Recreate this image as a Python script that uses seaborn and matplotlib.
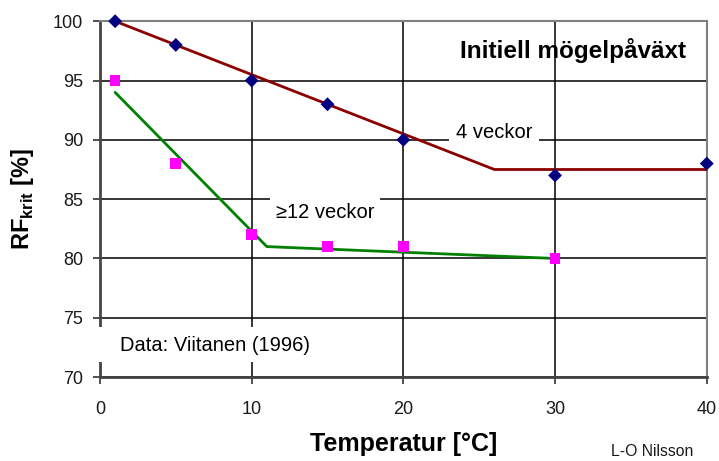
import numpy as np
import pandas as pd
import seaborn as sns
import matplotlib.pyplot as plt

# measured points
temp_4v = [1, 5, 10, 15, 20, 30, 40]
rf_4v = [100, 98, 95, 93, 90, 87, 88]
temp_12v = [1, 5, 10, 15, 20, 30]
rf_12v = [95, 88, 82, 81, 81, 80]

# fitted limit curves
fit_4v_x = [1, 26, 40]
fit_4v_y = [100, 87.5, 87.5]
fit_12v_x = [1, 11, 30]
fit_12v_y = [94, 81, 80]

x_ticks = [0, 10, 20, 30, 40]
y_ticks = [70, 75, 80, 85, 90, 95, 100]

sns.set_theme(style="white")
plt.rcParams['font.family'] = ['Liberation Sans', 'DejaVu Sans']
plt.rcParams['mathtext.fontset'] = 'custom'
plt.rcParams['mathtext.rm'] = 'Liberation Sans'
plt.rcParams['mathtext.bf'] = 'Liberation Sans:bold'
plt.rcParams['text.color'] = 'black'
plt.rcParams['axes.labelcolor'] = 'black'

fig = plt.figure(figsize=(7.19, 4.61), dpi=100)
ax = fig.add_axes([0.139, 0.182, 0.844, 0.772])

df_fit4 = pd.DataFrame({'x': fit_4v_x, 'y': fit_4v_y})
df_fit12 = pd.DataFrame({'x': fit_12v_x, 'y': fit_12v_y})
df_4v = pd.DataFrame({'x': temp_4v, 'y': rf_4v})
df_12v = pd.DataFrame({'x': temp_12v, 'y': rf_12v})

sns.lineplot(data=df_fit4, x='x', y='y', ax=ax, color='#8b0000', lw=2, zorder=3)
sns.lineplot(data=df_fit12, x='x', y='y', ax=ax, color='#008000', lw=2, zorder=3)
sns.scatterplot(data=df_4v, x='x', y='y', ax=ax, marker='D', s=50,
                color='#000080', edgecolor='none', zorder=4, clip_on=False)
sns.scatterplot(data=df_12v, x='x', y='y', ax=ax, marker='s', s=60,
                color='#ff00ff', edgecolor='none', zorder=4, clip_on=False)

ax.set_xlim(0, 40)
ax.set_ylim(70, 100)
ax.set_xticks(x_ticks)
ax.set_yticks(y_ticks)
ax.grid(True, color='black', lw=1.1)
ax.set_axisbelow(True)
ax.tick_params(axis='both', direction='out', length=5, width=1.2, color='#333333',
               labelsize=13, labelcolor='#1a1a1a', pad=7, bottom=True, left=True)
ax.tick_params(axis='x', pad=12)
for side in ['top', 'right']:
    ax.spines[side].set_color('#808080')
    ax.spines[side].set_linewidth(1.5)
for side in ['left', 'bottom']:
    ax.spines[side].set_color('#444444')
    ax.spines[side].set_linewidth(2)

ax.set_xlabel('Temperatur [°C]', fontsize=18, fontweight='bold', labelpad=10)
ax.set_ylabel(r'RF$_{\mathbf{krit}}$ [%]', fontsize=17, fontweight='bold', labelpad=12)

ax.text(38.6, 97.5, 'Initiell mögelpåväxt', fontsize=17.5, fontweight='bold',
        ha='right', va='center')
ax.text(26.0, 90.6, '4 veckor', fontsize=14.5, ha='center', va='center',
        bbox=dict(facecolor='white', edgecolor='none', pad=5), zorder=2.2)
ax.text(11.6, 83.9, '≥12 veckor', fontsize=14.5, ha='left', va='center',
        bbox=dict(facecolor='white', edgecolor='none', pad=4), zorder=2.2)

# white background behind the data source note
ax.add_patch(plt.Rectangle((-0.003, 0.042), 0.385, 0.098, transform=ax.transAxes,
                           facecolor='white', edgecolor='none', zorder=2.6, clip_on=False))
ax.text(1.3, 72.7, 'Data: Viitanen (1996)', fontsize=14.5, ha='left', va='center', zorder=3)
fig.text(0.964, 0.02, 'L-O Nilsson', fontsize=11.3, ha='right', va='center', color='#1a1a1a')

fig.savefig('out.png', dpi=100)
